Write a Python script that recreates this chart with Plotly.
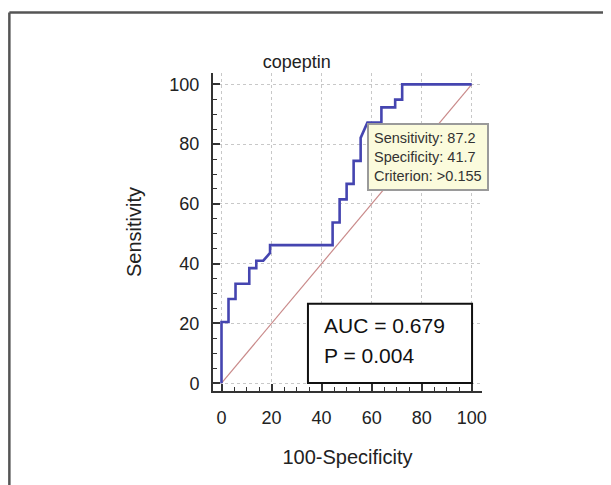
import plotly.graph_objects as go

# ROC curve points (100-Specificity, Sensitivity)
fpr = [0, 0, 2.8, 2.8, 5.6, 5.6, 11.1, 11.1, 13.9, 13.9, 16.7, 19.4, 19.4, 44.4, 44.4, 47.2,
       47.2, 50.0, 50.0, 52.8, 52.8, 55.6, 55.6, 56.9, 58.3, 63.9, 63.9, 69.4, 69.4, 72.2, 72.2, 100]
tpr = [0, 20.5, 20.5, 28.2, 28.2, 33.3, 33.3, 38.5, 38.5, 41.0, 41.0, 43.6, 46.2, 46.2, 53.8, 53.8,
       61.5, 61.5, 66.7, 66.7, 74.4, 74.4, 82.1, 84.6, 87.2, 87.2, 92.3, 92.3, 94.9, 94.9, 100, 100]
diag = [0, 100]

# optimal criterion
crit_sens = 87.2
crit_spec = 41.7
crit_label = ">0.155"
auc = 0.679
p_value = 0.004
tick_vals = [0, 20, 40, 60, 80, 100]

fig = go.Figure()
fig.add_trace(go.Scatter(x=diag, y=diag, mode="lines",
                         line=dict(color="#c98a8a", width=1.2), hoverinfo="skip"))
fig.add_trace(go.Scatter(x=fpr, y=tpr, mode="lines",
                         line=dict(color="#4545b0", width=2.6), hoverinfo="skip"))

font = "Liberation Sans, Arial, sans-serif"
axis_common = dict(
    tickvals=tick_vals, showgrid=True, gridcolor="#c8c8c8", griddash="dot", gridwidth=1,
    zeroline=False, showline=True, linecolor="#333", linewidth=2,
    ticks="inside", ticklen=7, tickwidth=2, tickcolor="#333",
    minor=dict(dtick=5, ticks="inside", ticklen=4, tickwidth=1, tickcolor="#333", showgrid=False),
    tickfont=dict(size=18, color="#222", family=font),
)
fig.update_xaxes(range=[-3.4, 104.1], title=dict(text="100-Specificity", font=dict(size=20, color="#222"), standoff=23),
                 ticklabelstandoff=9, **axis_common)
fig.update_yaxes(range=[-2.6, 103.8], title=dict(text="Sensitivity", font=dict(size=20, color="#222"), standoff=22),
                 ticklabelstandoff=8, **axis_common)

# tooltip box at the criterion point
fig.add_annotation(x=100 - crit_spec, y=crit_sens, xanchor="left", yanchor="top", showarrow=False,
                   text=f"Sensitivity: {crit_sens}<br>Specificity: {crit_spec}<br>Criterion: {crit_label}",
                   align="left", bgcolor="#fbfbdc", bordercolor="#9a9a9a", borderwidth=2, borderpad=5,
                   font=dict(size=14.5, color="#333", family=font))

# AUC box
fig.add_shape(type="rect", xref="paper", yref="paper", x0=0.353, x1=0.963, y0=0.025, y1=0.274,
              line=dict(color="#111", width=2), fillcolor="white", layer="above")
fig.add_annotation(xref="paper", yref="paper", x=0.405, y=0.165, xanchor="left", showarrow=False,
                   text=f"AUC = {auc}", font=dict(size=21, color="#111", family=font))
fig.add_annotation(xref="paper", yref="paper", x=0.405, y=0.07, xanchor="left", showarrow=False,
                   text=f"P = {p_value:.3f}", font=dict(size=21, color="#111", family=font))

# outer frame
fig.add_shape(type="line", xref="paper", yref="paper", x0=-0.757, x1=-0.757, y0=1.19, y1=-0.5,
              line=dict(color="#555", width=2.5))
fig.add_shape(type="line", xref="paper", yref="paper", x0=-0.757, x1=2, y0=1.19, y1=1.19,
              line=dict(color="#555", width=2.5))

fig.update_layout(
    width=603, height=477,
    margin=dict(l=205, r=129, t=65, b=94),
    title=dict(text="copeptin", x=0.479, xanchor="center", y=0.887, yanchor="middle",
               font=dict(size=18, color="#222", family=font)),
    font=dict(family=font),
    plot_bgcolor="white", paper_bgcolor="white",
    showlegend=False,
)

fig.write_html("out.html")
